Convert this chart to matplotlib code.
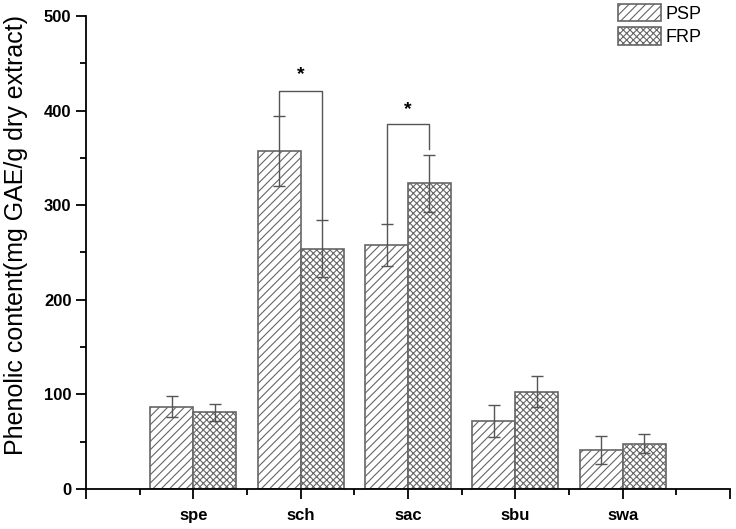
import matplotlib
matplotlib.use("Agg")
import matplotlib.pyplot as plt
import numpy as np

# ---------------------------------------------------------------------------
# Data
# ---------------------------------------------------------------------------

categories = ["spe", "sch", "sac", "sbu", "swa"]
psp_mean = [87, 357, 258, 72, 41]
psp_err = [11, 37, 22, 17, 15]
frp_mean = [81, 254, 323, 103, 48]
frp_err = [9, 30, 30, 16, 10]

# significance brackets: (category index, bracket height, left foot, right foot, star y)
sig_idx = [1, 2]
sig_top = [421, 386]
sig_left = [394, 280]
sig_right = [284, 359]
sig_star = [438, 401]

# ---------------------------------------------------------------------------
# Style
# ---------------------------------------------------------------------------

plt.rcParams["font.family"] = ["Liberation Sans", "DejaVu Sans"]
plt.rcParams["hatch.linewidth"] = 0.8
plt.rcParams["hatch.color"] = "#555555"

EDGE = "#666666"
LINE = "#555555"

fig = plt.figure(figsize=(7.36, 5.29), dpi=100)
ax = fig.add_axes([86 / 736, 1 - 489 / 529, (730 - 86) / 736, (489 - 16) / 529])

x = np.arange(1, len(categories) + 1)
w = 0.4

ax.bar(x - w / 2, psp_mean, w, color="white", edgecolor=EDGE, hatch="////",
       linewidth=1.2, label="PSP", zorder=2)
ax.bar(x + w / 2, frp_mean, w, color="white", edgecolor=EDGE, hatch="xxxxx",
       linewidth=1.2, label="FRP", zorder=2)

ax.errorbar(x - w / 2, psp_mean, yerr=psp_err, fmt="none", ecolor=LINE,
            elinewidth=1.0, capsize=4, capthick=1.0, zorder=3)
ax.errorbar(x + w / 2, frp_mean, yerr=frp_err, fmt="none", ecolor=LINE,
            elinewidth=1.0, capsize=4, capthick=1.0, zorder=3)

for i, top, lf, rf, st in zip(sig_idx, sig_top, sig_left, sig_right, sig_star):
    xl, xr = x[i] - w / 2, x[i] + w / 2
    ax.plot([xl, xl, xr, xr], [lf, top, top, rf], color=LINE, linewidth=1.0, zorder=3)
    ax.text((xl + xr) / 2, st, "*", ha="center", va="center", fontsize=14,
            fontweight="bold")

ax.set_xlim(0, 6)
ax.set_ylim(0, 500)
ax.set_xticks(np.arange(0, 7))
ax.set_xticklabels([""] + categories + [""], fontsize=12, fontweight="bold")
ax.set_xticks(np.arange(0.5, 6, 1), minor=True)
ax.set_yticks(np.arange(0, 501, 100))
ax.set_yticks(np.arange(50, 500, 100), minor=True)
for lab in ax.get_yticklabels():
    lab.set_fontsize(12)
    lab.set_fontweight("bold")

ax.spines["top"].set_visible(False)
ax.spines["right"].set_visible(False)
ax.spines["left"].set_linewidth(1.3)
ax.spines["bottom"].set_linewidth(1.3)
ax.tick_params(which="major", direction="out", length=7, width=1.3)
ax.tick_params(which="minor", direction="out", length=4, width=1.3)
ax.tick_params(axis="x", which="major", pad=7)

ax.set_ylabel("Phenolic content(mg GAE/g dry extract)", fontsize=18)
ax.yaxis.set_label_coords(-0.09, 0.537)

ax.legend(loc="upper left", bbox_to_anchor=(618 / 736, 1 - 4 / 529),
          bbox_transform=fig.transFigure, frameon=False, fontsize=13,
          handlelength=2.4, handleheight=1.1, labelspacing=0.25,
          handletextpad=0.25, borderpad=0, borderaxespad=0)

fig.savefig("out.png", dpi=100)
